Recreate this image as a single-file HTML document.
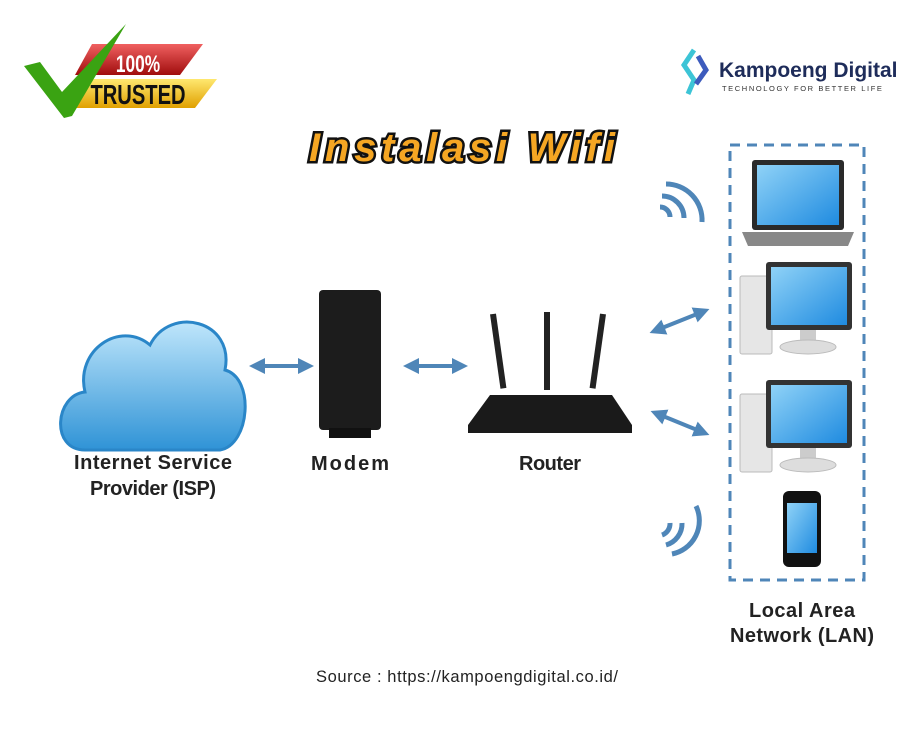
<!DOCTYPE html>
<html><head><meta charset="utf-8"><style>
body{margin:0;background:#fff;width:923px;height:729px;overflow:hidden}
svg{display:block}
</style></head><body>
<svg width="923" height="729" viewBox="0 0 923 729" font-family="Liberation Sans, sans-serif">
<defs>
<linearGradient id="scr" x1="0" y1="0" x2="1" y2="1"><stop offset="0" stop-color="#8fd2f7"/><stop offset="1" stop-color="#1f8be0"/></linearGradient>
<linearGradient id="cl" x1="0" y1="0" x2="0" y2="1"><stop offset="0" stop-color="#bfe6fb"/><stop offset="1" stop-color="#2f93d6"/></linearGradient>
<linearGradient id="red" x1="0" y1="0" x2="0" y2="1"><stop offset="0" stop-color="#f06060"/><stop offset="1" stop-color="#a00d0d"/></linearGradient>
<linearGradient id="yel" x1="0" y1="0" x2="0" y2="1"><stop offset="0" stop-color="#ffe870"/><stop offset="1" stop-color="#e0a000"/></linearGradient>
<marker id="ah" viewBox="0 0 10 10" refX="5" refY="5" markerWidth="4" markerHeight="4" orient="auto-start-reverse"><path d="M0,0L10,5L0,10z" fill="#4f86b8"/></marker>
</defs>
<!-- trusted badge -->
<polygon points="92,44 203,44 180,75 75,75" fill="url(#red)"/>
<polygon points="80,79 217,79 195,108 62,108" fill="url(#yel)"/>
<path d="M24,66 L40,62 L62,92 L126,24 L72,116 L64,118 Z" fill="#3aa312"/>
<g transform="translate(138,0) scale(0.72,1)">
<text x="0" y="72" font-size="24" font-weight="bold" fill="#fff" text-anchor="middle">100%</text>
<text x="0" y="104" font-size="28" font-weight="bold" fill="#111" text-anchor="middle">TRUSTED</text>
</g>
<!-- logo -->
<path d="M694,50 L684,65 L694,80 L688,94" stroke="#3cc4d6" stroke-width="5" fill="none"/>
<path d="M698,56 L706,70 L696,84" stroke="#3d5bbd" stroke-width="5" fill="none"/>
<text x="719" y="77" font-size="21" font-weight="bold" fill="#1e2c5a">Kampoeng Digital</text>
<text x="722" y="91" font-size="7.5" fill="#333" letter-spacing="1.6">TECHNOLOGY FOR BETTER LIFE</text>
<!-- title -->
<text x="462" y="161" font-size="40" font-weight="bold" font-style="italic" fill="#f5a623" stroke="#111" stroke-width="5" paint-order="stroke" text-anchor="middle" textLength="306">Instalasi Wifi</text>
<!-- dashed box -->
<rect x="730" y="145" width="134" height="435" fill="none" stroke="#4f86b8" stroke-width="3" stroke-dasharray="10,7"/>
<!-- laptop -->
<rect x="752" y="160" width="92" height="70" rx="3" fill="#2a2a2a"/>
<rect x="757" y="165" width="82" height="60" fill="url(#scr)"/>
<polygon points="742,232 854,232 848,246 748,246" fill="#888"/>
<!-- desktops -->
<g id="pc">
<rect x="740" y="276" width="32" height="78" rx="2" fill="#e6e6e6" stroke="#bbb"/>
<rect x="766" y="262" width="86" height="68" rx="3" fill="#333"/>
<rect x="771" y="267" width="76" height="58" fill="url(#scr)"/>
<rect x="800" y="330" width="16" height="12" fill="#ccc"/>
<ellipse cx="808" cy="347" rx="28" ry="7" fill="#ddd" stroke="#bbb"/>
</g>
<use href="#pc" transform="translate(0,118)"/>
<!-- phone -->
<rect x="783" y="491" width="38" height="76" rx="6" fill="#111"/>
<rect x="787" y="503" width="30" height="50" fill="url(#scr)"/>
<!-- wifi -->
<g fill="none" stroke="#4f86b8" stroke-width="5">
<path d="M660,207 a10,10 0 0 1 10,10"/><path d="M662,196 a22,22 0 0 1 22,22"/><path d="M666,184 a36,36 0 0 1 36,38"/>
<path d="M662,535 a12,12 0 0 0 8,-12"/><path d="M666,545 a22,22 0 0 0 16,-22"/><path d="M672,554 a34,34 0 0 0 24,-48"/>
</g>
<!-- arrows -->
<g stroke="#4f86b8" stroke-width="4" marker-start="url(#ah)" marker-end="url(#ah)">
<line x1="257" y1="366" x2="306" y2="366"/>
<line x1="411" y1="366" x2="460" y2="366"/>
<line x1="657" y1="330" x2="702" y2="312"/>
<line x1="658" y1="414" x2="702" y2="432"/>
</g>
<!-- cloud -->
<path d="M85,450 C50,450 55,395 85,392 C75,350 120,320 150,345 C170,305 235,320 225,370 C255,378 250,445 220,450 Z" fill="url(#cl)" stroke="#2a86c8" stroke-width="3"/>
<!-- modem -->
<rect x="319" y="290" width="62" height="140" rx="4" fill="#1c1c1c"/>
<rect x="329" y="428" width="42" height="10" fill="#111"/>
<!-- router -->
<rect x="490" y="314" width="6" height="75" fill="#222" transform="rotate(-8 493 314)"/>
<rect x="544" y="312" width="6" height="78" fill="#222"/>
<rect x="600" y="314" width="6" height="75" fill="#222" transform="rotate(8 603 314)"/>
<path d="M490,395 L612,395 L632,425 L632,433 L468,433 L468,425 Z" fill="#1a1a1a"/>
<!-- labels -->
<g font-size="20" font-weight="bold" fill="#222" text-anchor="middle">
<text x="153" y="469" textLength="158">Internet Service</text>
<text x="153" y="495" textLength="126">Provider (ISP)</text>
<text x="350" y="470" textLength="78">Modem</text>
<text x="550" y="470" textLength="62">Router</text>
<text x="802" y="617" textLength="106">Local Area</text>
<text x="802" y="642" textLength="144">Network (LAN)</text>
</g>
<text x="467" y="682" font-size="16.5" fill="#222" text-anchor="middle" textLength="302">Source : https://kampoengdigital.co.id/</text>
</svg>
</body></html>
